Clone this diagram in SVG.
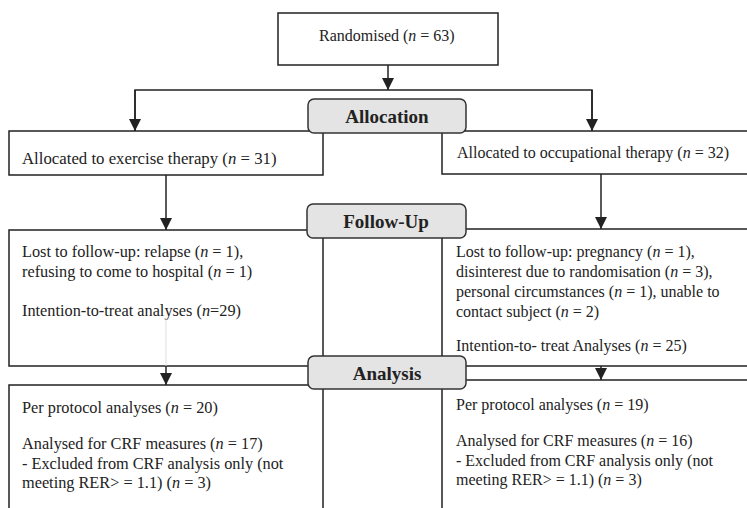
<svg xmlns="http://www.w3.org/2000/svg" width="747" height="508" viewBox="0 0 747 508" font-family="'Liberation Serif', 'DejaVu Serif', serif">
<defs>
<style>
.box{fill:#fff;stroke:#222;stroke-width:1.5}
.lab{fill:#e4e4e4;stroke:#333;stroke-width:1.5}
.t{font-family:'Liberation Serif','DejaVu Serif',serif;font-size:16px;fill:#222}
.l{font-size:16.3px}
.h{font-family:'Liberation Serif','DejaVu Serif',serif;font-size:19px;font-weight:bold;fill:#222;text-anchor:middle}
.c{fill:none;stroke:#222;stroke-width:1.5}
</style>
<marker id="ah" viewBox="0 0 12 12" refX="12" refY="6" markerWidth="12" markerHeight="12" markerUnits="userSpaceOnUse" orient="auto">
<path d="M0,0 L12,6 L0,12 Z" fill="#222"/>
</marker>
</defs>
<g id="randomised">
<rect class="box" x="278" y="13" width="220" height="52"/>
<text class="t" x="319" y="41">Randomised (<tspan font-style="italic">n</tspan> = 63)</text>
</g>
<g id="alloc-ex">
<rect class="box" x="9" y="131" width="314" height="44"/>
<text class="t" x="22" y="164" style="font-size:16.8px">Allocated to exercise therapy (<tspan font-style="italic">n</tspan> = 31)</text>
</g>
<g id="alloc-ot">
<rect class="box" x="442" y="131" width="310" height="43"/>
<text class="t" x="457" y="158">Allocated to occupational therapy (<tspan font-style="italic">n</tspan> = 32)</text>
</g>
<g id="follow-ex">
<rect class="box" x="9" y="230" width="314" height="136"/>
<text class="t l" x="22" y="257">Lost to follow-up: relapse (<tspan font-style="italic">n</tspan> = 1),</text>
<text class="t l" x="22" y="277">refusing to come to hospital (<tspan font-style="italic">n</tspan> = 1)</text>
<text class="t l" x="22" y="316">Intention-to-treat analyses (<tspan font-style="italic">n</tspan>=29)</text>
</g>
<g id="follow-ot">
<rect class="box" x="442" y="229" width="310" height="137"/>
<text class="t" x="456" y="257">Lost to follow-up: pregnancy (<tspan font-style="italic">n</tspan> = 1),</text>
<text class="t" x="456" y="277">disinterest due to randomisation (<tspan font-style="italic">n</tspan> = 3),</text>
<text class="t" x="456" y="297">personal circumstances (<tspan font-style="italic">n</tspan> = 1), unable to</text>
<text class="t" x="456" y="317">contact subject (<tspan font-style="italic">n</tspan> = 2)</text>
<text class="t" x="456" y="351">Intention-to- treat Analyses (<tspan font-style="italic">n</tspan> = 25)</text>
</g>
<g id="analysis-ex">
<rect class="box" x="9" y="385" width="314" height="140"/>
<text class="t l" x="22" y="413">Per protocol analyses (<tspan font-style="italic">n</tspan> = 20)</text>
<text class="t l" x="22" y="449">Analysed for CRF measures (<tspan font-style="italic">n</tspan> = 17)</text>
<text class="t l" x="22" y="469">- Excluded from CRF analysis only (not</text>
<text class="t l" x="22" y="488">meeting RER&gt; = 1.1) (<tspan font-style="italic">n</tspan> = 3)</text>
</g>
<g id="analysis-ot">
<rect class="box" x="442" y="380" width="310" height="145"/>
<text class="t" x="456" y="410">Per protocol analyses (<tspan font-style="italic">n</tspan> = 19)</text>
<text class="t" x="456" y="446">Analysed for CRF measures (<tspan font-style="italic">n</tspan> = 16)</text>
<text class="t" x="456" y="466">- Excluded from CRF analysis only (not</text>
<text class="t" x="456" y="485">meeting RER&gt; = 1.1) (<tspan font-style="italic">n</tspan> = 3)</text>
</g>
<g id="connectors">
<line class="c" x1="388" y1="65" x2="388" y2="90" marker-end="url(#ah)"/>
<polyline class="c" points="135,131 135,90 592,90 592,131"/>
<line class="c" x1="135" y1="90" x2="135" y2="131" marker-end="url(#ah)"/>
<line class="c" x1="592" y1="90" x2="592" y2="131" marker-end="url(#ah)"/>
<line class="c" x1="166" y1="175" x2="166" y2="230" marker-end="url(#ah)"/>
<line class="c" x1="601" y1="174" x2="601" y2="229" marker-end="url(#ah)"/>
<line x1="166" y1="318" x2="166" y2="366" stroke="#ddd" stroke-width="1"/>
<line class="c" x1="166" y1="366" x2="166" y2="385" marker-end="url(#ah)"/>
<line class="c" x1="601" y1="366" x2="601" y2="380" marker-end="url(#ah)"/>
</g>
<g id="label-allocation">
<rect class="lab" x="308" y="99" width="158" height="34" rx="6"/>
<text class="h" x="387" y="123">Allocation</text>
</g>
<g id="label-followup">
<rect class="lab" x="307" y="204" width="159" height="34" rx="6"/>
<text class="h" x="386" y="228">Follow-Up</text>
</g>
<g id="label-analysis">
<rect class="lab" x="308" y="356" width="158" height="33" rx="6"/>
<text class="h" x="387" y="380">Analysis</text>
</g>
</svg>
